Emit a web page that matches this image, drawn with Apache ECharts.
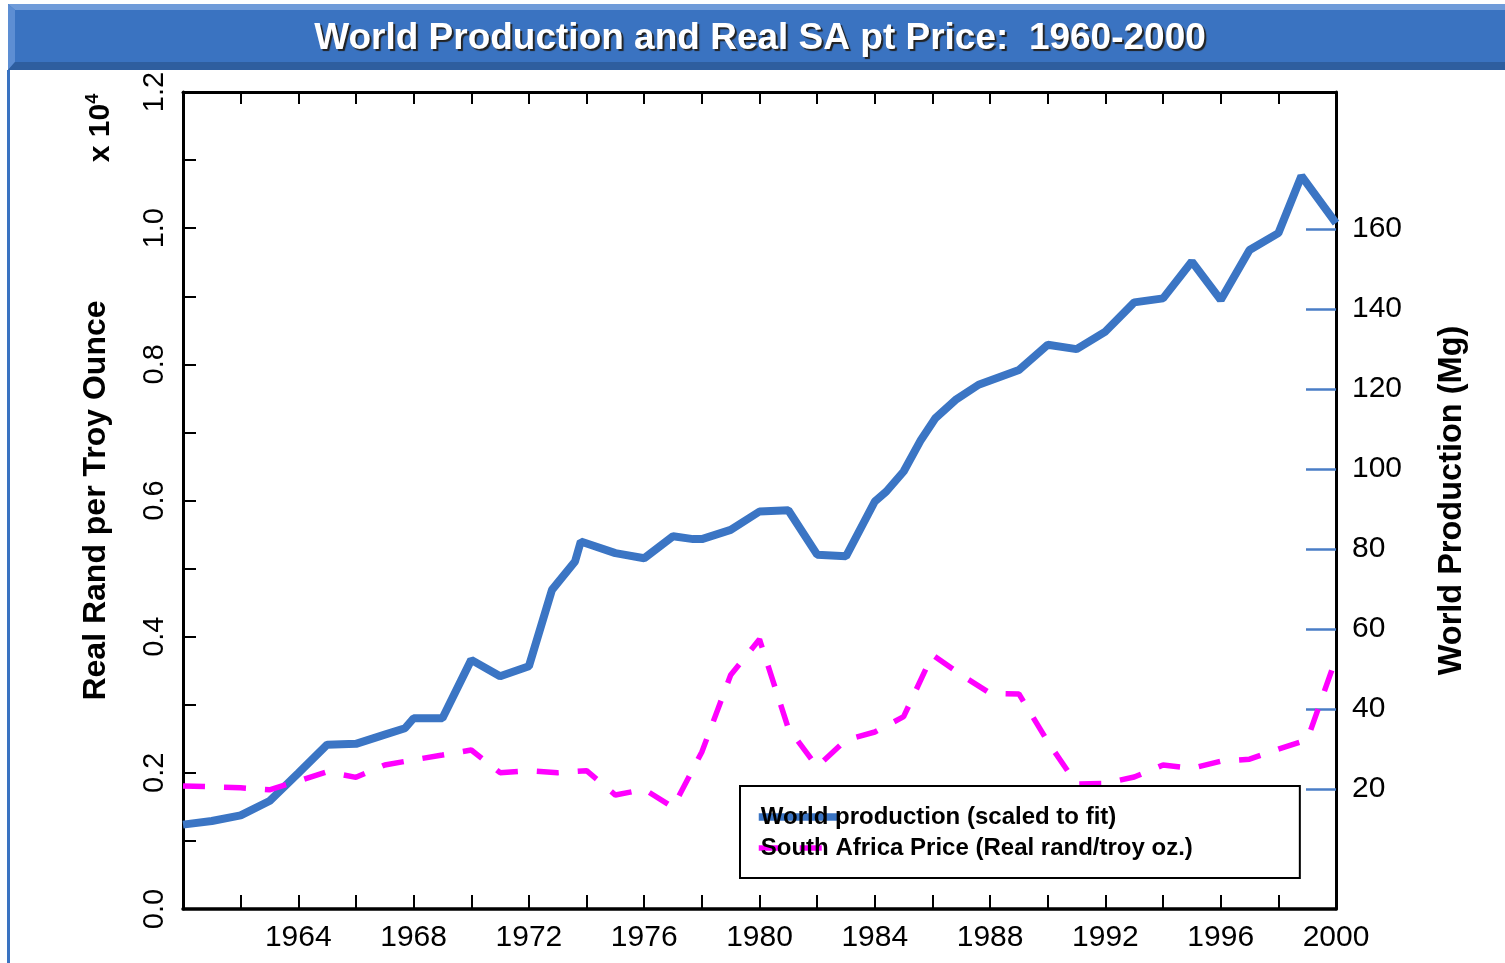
<!DOCTYPE html>
<html>
<head>
    <meta charset="UTF-8">
    <title>World Production and Real SA pt Price</title>
    <script src="https://cdn.jsdelivr.net/npm/echarts@6/dist/echarts.min.js"></script>
    <style>
        html, body { margin: 0; padding: 0; background: #fff; }
        #main { width: 1505px; height: 963px; }
    </style>
</head>
<body>
<div id="main"></div>
<script type="text/javascript">
    // world production (Mg)
    var prodYears = [1960, 1961, 1962, 1963, 1964, 1965, 1966, 1967, 1967.7, 1968, 1969, 1970, 1971, 1972,
        1972.8, 1973.6, 1973.8, 1975, 1976, 1977, 1977.7, 1978, 1979, 1980, 1981, 1982, 1983, 1984, 1984.4,
        1985, 1985.6, 1986.1, 1986.8, 1987.6, 1989, 1990, 1991, 1992, 1993, 1994, 1995, 1996, 1997, 1998,
        1998.8, 2000];
    var prodMg = [11.1, 12.0, 13.4, 17.0, 24.0, 31.1, 31.3, 33.6, 35.2, 37.7, 37.7, 52.3, 48.2, 50.7,
        69.8, 76.9, 81.9, 79.0, 77.7, 83.2, 82.5, 82.5, 84.8, 89.4, 89.7, 78.6, 78.2, 91.9, 94.4,
        99.4, 107.3, 112.7, 117.3, 121.1, 124.8, 131.1, 130.0, 134.4, 141.7, 142.7, 151.9, 142.3, 154.8, 159.0,
        173.3, 161.5];

    // real rand per troy ounce
    var priceYears = [1960, 1961, 1962, 1963, 1964, 1965, 1966, 1967, 1968, 1969, 1970, 1971, 1972, 1973,
        1974, 1975, 1976, 1977, 1978, 1979, 1980, 1981, 1982, 1983, 1984, 1985, 1986, 1987, 1988, 1989,
        1990, 1991, 1992, 1993, 1994, 1995, 1996, 1997, 1998, 1999, 2000];
    var priceRand = [1807, 1795, 1780, 1750, 1880, 2017, 1934, 2115, 2190, 2262, 2335, 2002, 2031, 2002,
        2031, 1674, 1758, 1494, 2306, 3437, 3961, 2654, 2090, 2482, 2600, 2825, 3735, 3437, 3168, 3159,
        2458, 1836, 1846, 1939, 2115, 2066, 2170, 2200, 2350, 2482, 3682];

    var rightTicks = [20, 40, 60, 80, 100, 120, 140, 160];
    var seriesNames = ['World production (scaled to fit)', 'South Africa Price (Real rand/troy oz.)'];
    var titleText = 'World Production and Real SA pt Price:  1960-2000';

    var font = "'Liberation Sans', Arial, sans-serif";
    var blue = '#3b75c4';
    var pink = '#ff00ff';
    var pinkDash = [22, 19];

    var myChart = echarts.init(document.getElementById('main'));

    var option = {
        animation: false,
        backgroundColor: '#fff',
        textStyle: {fontFamily: font, color: '#000'},
        graphic: [
            // title banner
            {type: 'rect', shape: {x: 8, y: 4, width: 1497, height: 66}, style: {fill: '#3a73c1'}},
            {type: 'polygon', shape: {points: [[8, 4], [1505, 4], [1505, 10], [15, 10]]}, style: {fill: '#6f9bd9'}},
            {type: 'polygon', shape: {points: [[8, 4], [15, 10], [15, 62], [8, 70]]}, style: {fill: '#5d8ed3'}},
            {type: 'polygon', shape: {points: [[8, 70], [15, 62], [1505, 62], [1505, 70]]}, style: {fill: '#2e5e9f'}},
            {type: 'rect', shape: {x: 7, y: 70, width: 3, height: 893}, style: {fill: '#3a73c1'}},
            {
                type: 'text', x: 760, y: 39,
                style: {
                    text: titleText, fill: '#fff', font: 'bold 37px ' + font,
                    align: 'center', verticalAlign: 'middle',
                    textShadowColor: '#222', textShadowOffsetX: 2, textShadowOffsetY: 2, textShadowBlur: 1
                }
            },
            {
                type: 'text', x: 101, y: 128, rotation: Math.PI / 2,
                style: {
                    text: '{a|x 10}{s|4}', align: 'center', verticalAlign: 'middle',
                    rich: {
                        a: {fontFamily: font, fontSize: 30, fontWeight: 'bold', fill: '#000', lineHeight: 34},
                        s: {fontFamily: font, fontSize: 18, fontWeight: 'bold', fill: '#000', verticalAlign: 'top', lineHeight: 34, padding: [0, 0, 10, 0]}
                    }
                }
            }
        ],
        legend: {
            data: [
                {name: seriesNames[0], itemStyle: {opacity: 0}, lineStyle: {color: blue, width: 7.5, type: 'solid'}},
                {name: seriesNames[1], itemStyle: {opacity: 0}, lineStyle: {color: pink, width: 5.5, type: pinkDash, cap: 'butt'}}
            ],
            orient: 'vertical',
            left: 740,
            top: 786,
            itemWidth: 80,
            itemHeight: 24,
            itemGap: 7,
            padding: [19, 107, 18, 15],
            borderColor: '#000',
            borderWidth: 2,
            backgroundColor: '#fff',
            textStyle: {fontSize: 24, fontWeight: 'bold', color: '#000', lineHeight: 24, padding: [0, 0, 0, -83]}
        },
        grid: {left: 183, top: 92, right: 169, bottom: 54},
        xAxis: [
            {
                type: 'value', position: 'bottom', min: 1960, max: 2000, interval: 2,
                axisLine: {onZero: false, lineStyle: {color: '#000', width: 3.5}},
                axisTick: {inside: true, length: 14, lineStyle: {color: '#000', width: 2}},
                axisLabel: {
                    fontSize: 30, color: '#000', margin: 14,
                    formatter: function (v) {
                        return (v % 4 === 0 && v !== 1960) ? String(v) : '';
                    }
                },
                splitLine: {show: false}
            },
            {
                type: 'value', position: 'top', min: 1960, max: 2000, interval: 2,
                axisLine: {onZero: false, lineStyle: {color: '#000', width: 3}},
                axisTick: {inside: true, length: 12, lineStyle: {color: '#000', width: 2}},
                axisLabel: {show: false},
                splitLine: {show: false}
            }
        ],
        yAxis: [
            {
                type: 'value', position: 'left', min: 0, max: 12000, interval: 1000,
                name: 'Real Rand per Troy Ounce', nameLocation: 'middle', nameGap: 71, nameRotate: 90,
                nameTextStyle: {fontSize: 32, fontWeight: 'bold', color: '#000'},
                axisLine: {onZero: false, lineStyle: {color: '#000', width: 3}},
                axisTick: {inside: true, length: 13, lineStyle: {color: '#000', width: 2}},
                axisLabel: {
                    rotate: 90, fontSize: 29, color: '#000', margin: 14,
                    formatter: function (v) {
                        return v % 2000 === 0 ? (v / 10000).toFixed(1) : '';
                    }
                },
                splitLine: {show: false}
            },
            {
                type: 'value', position: 'right', min: -10, max: 194.3,
                name: 'World Production (Mg)', nameLocation: 'middle', nameGap: 100, nameRotate: 90,
                nameTextStyle: {fontSize: 32.5, fontWeight: 'bold', color: '#000'},
                axisLine: {onZero: false, lineStyle: {color: '#000', width: 3}},
                axisTick: {inside: true, length: 30, customValues: rightTicks, lineStyle: {color: '#4a7dc6', width: 2.5}},
                axisLabel: {fontSize: 30, color: '#000', margin: 16, customValues: rightTicks},
                splitLine: {show: false}
            }
        ],
        series: [
            {
                name: seriesNames[0],
                type: 'line',
                xAxisIndex: 0,
                yAxisIndex: 1,
                symbol: 'none',
                data: prodYears.map(function (y, i) { return [y, prodMg[i]]; }),
                itemStyle: {color: blue},
                lineStyle: {color: blue, width: 8}
            },
            {
                name: seriesNames[1],
                type: 'line',
                xAxisIndex: 0,
                yAxisIndex: 0,
                symbol: 'none',
                data: priceYears.map(function (y, i) { return [y, priceRand[i]]; }),
                itemStyle: {color: pink},
                lineStyle: {color: pink, width: 5.5, type: pinkDash, cap: 'butt'}
            }
        ]
    };
    myChart.setOption(option);
</script>
</body>
</html>
